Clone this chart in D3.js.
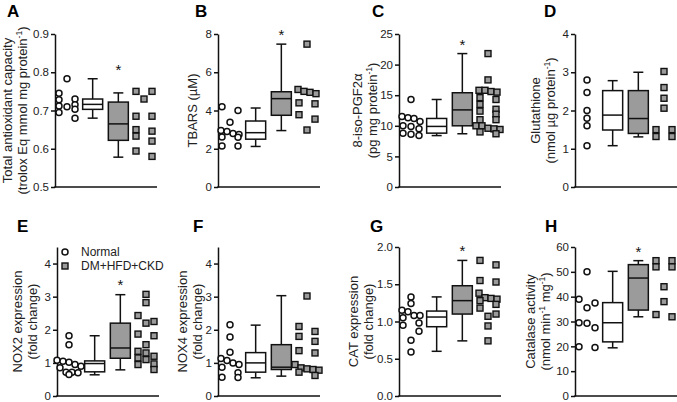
<!DOCTYPE html>
<html>
<head>
<meta charset="utf-8">
<script src="https://cdn.jsdelivr.net/npm/d3@7"></script>
<style>
  html, body { margin: 0; padding: 0; background: #fff; }
  svg { display: block; font-family: Arial, "Liberation Sans", sans-serif; }
</style>
</head>
<body>
<svg id="chart"></svg>
<script>
// ---- data ----
const groups = ["normalPts", "normalBox", "dmBox", "dmPts"];

// box stats are [min, q1, median, q3, max]
const aNormal = [0.783, 0.745, 0.73, 0.728, 0.715, 0.712, 0.71, 0.703, 0.695, 0.68];
const aDM = [0.75, 0.75, 0.73, 0.685, 0.685, 0.65, 0.646, 0.633, 0.62, 0.594, 0.58];
const aBoxNormal = [0.68, 0.703, 0.716, 0.73, 0.783];
const aBoxDM = [0.578, 0.622, 0.665, 0.722, 0.746];
const aTicks = [0.5, 0.6, 0.7, 0.8, 0.9];

const bNormal = [4.2, 4.0, 3.38, 2.95, 2.9, 2.8, 2.75, 2.62, 2.6, 2.15, 2.15];
const bDM = [7.47, 5.1, 5.0, 4.95, 4.88, 4.4, 4.35, 3.78, 3.55, 2.98];
const bBoxNormal = [2.12, 2.5, 2.84, 3.45, 4.13];
const bBoxDM = [2.95, 3.75, 4.62, 4.98, 7.47];
const bTicks = [0, 2, 4, 6, 8];

const cNormal = [14.3, 11.5, 11.3, 11.2, 10.7, 10.0, 9.9, 9.5, 8.8, 8.6, 8.4];
const cDM = [21.8, 17.5, 15.8, 15.8, 15.6, 15.5, 14.6, 14.3, 13.5, 12.7, 12.4, 11.9, 11.0, 11.0, 10.0, 10.0, 9.6, 9.5, 9.4, 9.0, 8.7];
const cBoxNormal = [8.4, 8.8, 9.9, 11.2, 14.3];
const cBoxDM = [8.7, 10.0, 12.6, 15.4, 21.8];
const cTicks = [0, 5, 10, 15, 20, 25];

const dNormal = [2.8, 2.47, 2.0, 1.8, 1.6, 1.08];
const dDM = [3.02, 2.6, 2.32, 2.06, 1.5, 1.5, 1.32, 1.32];
const dBoxNormal = [1.08, 1.49, 1.88, 2.52, 2.78];
const dBoxDM = [1.31, 1.4, 1.79, 2.52, 3.0];
const dTicks = [0, 1, 2, 3, 4];

const eNormal = [1.82, 1.55, 1.08, 1.05, 1.02, 0.95, 0.9, 0.85, 0.72, 0.72, 0.7, 0.65];
const eDM = [3.07, 2.82, 2.43, 2.25, 2.2, 1.87, 1.82, 1.55, 1.35, 1.3, 1.2, 1.15, 1.1, 0.97, 0.95, 0.8];
const eBoxNormal = [0.64, 0.73, 0.98, 1.06, 1.82];
const eBoxDM = [0.79, 1.14, 1.45, 2.2, 3.06];
const eTicks = [0, 1, 2, 3, 4];

const fNormal = [2.15, 1.78, 1.32, 1.13, 1.07, 1.0, 0.95, 0.87, 0.7, 0.57, 0.56];
const fDM = [3.02, 2.1, 1.95, 1.8, 1.65, 1.37, 1.3, 0.95, 0.85, 0.82, 0.8, 0.78, 0.72, 0.62];
const fBoxNormal = [0.55, 0.72, 1.0, 1.31, 2.14];
const fBoxDM = [0.6, 0.8, 0.87, 1.55, 3.03];
const fTicks = [0, 1, 2, 3, 4];

const gNormal = [1.33, 1.24, 1.15, 1.13, 1.08, 1.08, 1.05, 0.98, 0.95, 0.87, 0.75, 0.59];
const gDM = [1.82, 1.76, 1.55, 1.53, 1.38, 1.32, 1.31, 1.3, 1.28, 1.23, 1.18, 1.1, 1.07, 0.94, 0.74];
const gBoxNormal = [0.6, 0.93, 1.06, 1.14, 1.33];
const gBoxDM = [0.74, 1.1, 1.28, 1.48, 1.82];
const gTicks = [0, 0.5, 1.0, 1.5, 2.0];

const hNormal = [50, 39, 37.5, 35.5, 29.5, 29.3, 27.5, 19.8, 19.5];
const hDM = [54.5, 54.5, 52, 52, 44, 38, 32.8, 31.9];
const hBoxNormal = [19.4, 21.8, 29.5, 37.6, 50.2];
const hBoxDM = [31.9, 34.6, 47.5, 52.9, 54.5];
const hTicks = [0, 10, 20, 30, 40, 50, 60];

const legendLabels = ["Normal", "DM+HFD+CKD"];
const sigPanels = ["A", "B", "C", "E", "G", "H"];

const panels = [
  { id: "A", normal: aNormal, dm: aDM, boxN: aBoxNormal, boxD: aBoxDM, ticks: aTicks, domain: [0.5, 0.9], fmt: ".1f",
    title: ["Total antioxidant capacity", "(trolox Eq mmol mg protein^-1)"] },
  { id: "B", normal: bNormal, dm: bDM, boxN: bBoxNormal, boxD: bBoxDM, ticks: bTicks, domain: [0, 8], fmt: "d",
    title: ["TBARS (µM)"] },
  { id: "C", normal: cNormal, dm: cDM, boxN: cBoxNormal, boxD: cBoxDM, ticks: cTicks, domain: [0, 25], fmt: "d",
    title: ["8-iso-PGF2α", "(pg mg protein^-1)"] },
  { id: "D", normal: dNormal, dm: dDM, boxN: dBoxNormal, boxD: dBoxDM, ticks: dTicks, domain: [0, 4], fmt: "d",
    title: ["Glutathione", "(nmol µg protein^-1)"] },
  { id: "E", normal: eNormal, dm: eDM, boxN: eBoxNormal, boxD: eBoxDM, ticks: eTicks, domain: [0, 4.5], fmt: "d",
    title: ["NOX2 expression", "(fold change)"] },
  { id: "F", normal: fNormal, dm: fDM, boxN: fBoxNormal, boxD: fBoxDM, ticks: fTicks, domain: [0, 4.5], fmt: "d",
    title: ["NOX4 expression", "(fold change)"] },
  { id: "G", normal: gNormal, dm: gDM, boxN: gBoxNormal, boxD: gBoxDM, ticks: gTicks, domain: [0, 2], fmt: ".1f",
    title: ["CAT expression", "(fold change)"] },
  { id: "H", normal: hNormal, dm: hDM, boxN: hBoxNormal, boxD: hBoxDM, ticks: hTicks, domain: [0, 60], fmt: "d",
    title: ["Catalase activity", "(nmol min^-1 mg^-1)"] }
];

// ---- layout ----
const layout = {
  A: { x0: 55,  top: 34,  bottom: 187, titleX: -33, letter: [7, 17] },
  B: { x0: 218, top: 34,  bottom: 187, titleX: -26, letter: [195, 17] },
  C: { x0: 399, top: 34,  bottom: 187, titleX: -27, letter: [372, 17] },
  D: { x0: 575, top: 34,  bottom: 187, titleX: -25, letter: [544, 17] },
  E: { x0: 57,  top: 247, bottom: 396, titleX: -25, letter: [17, 232] },
  F: { x0: 218, top: 247, bottom: 396, titleX: -21, letter: [193, 232] },
  G: { x0: 399, top: 247, bottom: 396, titleX: -31, letter: [370, 232] },
  H: { x0: 575, top: 247, bottom: 396, titleX: -30, letter: [545, 232] }
};

const plotW = 102;
const boxW = 20, capW = 10, sym = 7;
const grey = "#9b9b9b";
const ink = "#111";

const svg = d3.select("#chart").attr("width", 677).attr("height", 402);

// spread points that sit at nearly the same height side by side
function swarm(values, y) {
  const pts = values.map(v => ({ v: v, y: y(v) })).sort((a, b) => a.y - b.y);
  const rows = [];
  let row = null;
  pts.forEach(p => {
    if (!row || p.y - row[0].y >= 6) { row = [p]; rows.push(row); }
    else row.push(p);
  });
  rows.forEach(r => {
    const n = r.length;
    const step = n === 2 ? 16 : (n === 3 ? 8 : 6);
    r.forEach((p, i) => { p.dx = (i - (n - 1) / 2) * step; });
  });
  return pts;
}

function addTitleLine(sel, str) {
  const parts = str.split(/\^(-?\d+)/);
  parts.forEach((part, i) => {
    if (!part) return;
    const t = sel.append("tspan").text(part);
    if (i % 2 === 1) t.attr("font-size", "8.5px").attr("baseline-shift", "super");
  });
}

panels.forEach(p => {
  const L = layout[p.id];
  const g = svg.append("g");

  const y = d3.scaleLinear().domain(p.domain).range([L.bottom, L.top]);
  const x = d3.scalePoint().domain(groups).range([L.x0 + 12, L.x0 + 89]);

  // y axis
  const ax = g.append("g")
    .attr("transform", `translate(${L.x0},0)`)
    .call(d3.axisLeft(y).tickValues(p.ticks).tickSize(4).tickSizeOuter(0).tickPadding(2)
      .tickFormat(d3.format(p.fmt)));
  ax.select(".domain").attr("stroke", ink).attr("stroke-width", 1.5);
  ax.selectAll(".tick line").attr("stroke", ink).attr("stroke-width", 1.5);
  ax.selectAll(".tick text").attr("fill", "#222").attr("font-size", "11.5px")
    .attr("font-family", "Arial, 'Liberation Sans', sans-serif");

  // x axis baseline
  g.append("line")
    .attr("x1", L.x0 - 0.75).attr("x2", L.x0 + plotW)
    .attr("y1", L.bottom).attr("y2", L.bottom)
    .attr("stroke", ink).attr("stroke-width", 1.5);

  // boxes
  [[p.boxN, "normalBox", "#fff"], [p.boxD, "dmBox", grey]].forEach(([b, key, fill]) => {
    const cx = x(key);
    const bg = g.append("g").attr("stroke", ink).attr("stroke-width", 1.5);
    bg.append("line").attr("x1", cx).attr("x2", cx).attr("y1", y(b[4])).attr("y2", y(b[3]));
    bg.append("line").attr("x1", cx).attr("x2", cx).attr("y1", y(b[1])).attr("y2", y(b[0]));
    bg.append("line").attr("x1", cx - capW / 2).attr("x2", cx + capW / 2).attr("y1", y(b[4])).attr("y2", y(b[4]));
    bg.append("line").attr("x1", cx - capW / 2).attr("x2", cx + capW / 2).attr("y1", y(b[0])).attr("y2", y(b[0]));
    bg.append("rect")
      .attr("x", cx - boxW / 2).attr("y", y(b[3]))
      .attr("width", boxW).attr("height", y(b[1]) - y(b[3]))
      .attr("fill", fill);
    bg.append("line").attr("x1", cx - boxW / 2).attr("x2", cx + boxW / 2).attr("y1", y(b[2])).attr("y2", y(b[2]));
  });

  // individual points
  g.append("g").selectAll("circle")
    .data(swarm(p.normal, y))
    .join("circle")
    .attr("cx", d => x("normalPts") + d.dx)
    .attr("cy", d => d.y)
    .attr("r", 3)
    .attr("fill", "#fff").attr("stroke", ink).attr("stroke-width", 1.5);

  g.append("g").selectAll("rect")
    .data(swarm(p.dm, y))
    .join("rect")
    .attr("x", d => x("dmPts") + d.dx - (sym - 1) / 2)
    .attr("y", d => d.y - (sym - 1) / 2)
    .attr("width", sym - 1).attr("height", sym - 1)
    .attr("fill", grey).attr("stroke", ink).attr("stroke-width", 1.4);

  // significance star
  if (sigPanels.includes(p.id)) {
    const top = d3.max([].concat(p.normal, p.dm, p.boxN, p.boxD));
    g.append("text")
      .attr("x", x("dmBox")).attr("y", y(top) - 12 + 8)
      .attr("text-anchor", "middle").attr("font-size", "15px").attr("fill", ink)
      .text("*");
  }

  // y title
  const midY = (L.top + L.bottom) / 2;
  const n = p.title.length;
  p.title.forEach((line, i) => {
    const cx = L.x0 + L.titleX - (n - 1 - i) * 14.5;
    const t = g.append("text")
      .attr("transform", `translate(${cx},${midY}) rotate(-90)`)
      .attr("text-anchor", "middle").attr("dy", "0.35em")
      .attr("font-size", "13px").attr("fill", "#222");
    addTitleLine(t, line);
  });

  // panel letter
  g.append("text")
    .attr("x", L.letter[0]).attr("y", L.letter[1])
    .attr("font-size", "17px").attr("font-weight", "bold").attr("fill", "#000")
    .text(p.id);
});

// legend in panel E
const lg = svg.append("g");
lg.append("circle").attr("cx", 65).attr("cy", 252).attr("r", 3)
  .attr("fill", "#fff").attr("stroke", ink).attr("stroke-width", 1.5);
lg.append("rect").attr("x", 62).attr("y", 263).attr("width", 6).attr("height", 6)
  .attr("fill", grey).attr("stroke", ink).attr("stroke-width", 1.4);
lg.selectAll("text").data(legendLabels).join("text")
  .attr("x", 81).attr("y", (d, i) => 252 + i * 14).attr("dy", "0.35em")
  .attr("font-size", "12px").attr("fill", "#222")
  .text(d => d);
</script>
</body>
</html>
